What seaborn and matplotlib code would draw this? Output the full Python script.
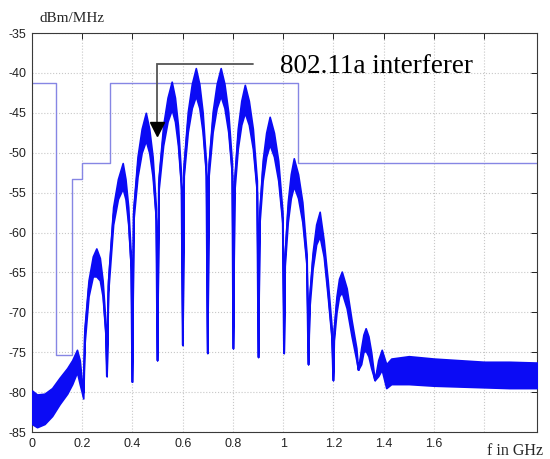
import matplotlib
matplotlib.use("Agg")
import matplotlib.pyplot as plt
import pandas as pd
import seaborn as sns

# ---- spectrum: frequency, upper / lower edge of the noisy trace ----
freq_ghz = [0.000, 0.020, 0.050, 0.080, 0.110, 0.140, 0.160, 0.179, 0.190, 0.198, 0.204,
            0.209, 0.225, 0.242, 0.256, 0.270, 0.281, 0.293, 0.297,
            0.303, 0.323, 0.342, 0.361, 0.372, 0.383, 0.394, 0.398,
            0.4035, 0.420, 0.4365, 0.453, 0.4665, 0.480, 0.4935, 0.498,
            0.504, 0.522, 0.5395, 0.556, 0.569, 0.581, 0.594, 0.599,
            0.604, 0.620, 0.636, 0.652, 0.666, 0.679, 0.693, 0.698,
            0.703, 0.719, 0.735, 0.751, 0.766, 0.781, 0.796, 0.800,
            0.805, 0.819, 0.833, 0.847, 0.863, 0.879, 0.895, 0.900,
            0.905, 0.918, 0.932, 0.946, 0.963, 0.980, 0.997, 1.002,
            1.006, 1.018, 1.030, 1.042, 1.059, 1.076, 1.093, 1.099,
            1.104, 1.117, 1.131, 1.145, 1.161, 1.177, 1.193, 1.198,
            1.2015, 1.212, 1.222, 1.233, 1.2525, 1.272, 1.291, 1.298,
            1.310, 1.319, 1.328, 1.339, 1.350, 1.364,
            1.378, 1.392, 1.410, 1.430, 1.500, 1.600, 1.700, 1.800, 1.900, 2.010]
upper_db = [-79.8, -80.3, -80.2, -79.5, -78.2, -77.0, -76.0, -74.7, -76.0, -78.5, -80.0,
            -72.0, -66.0, -63.0, -62.0, -63.2, -66.0, -71.5, -78.0,
            -66.0, -56.8, -53.3, -51.3, -53.3, -56.8, -63.3, -78.7,
            -57.0, -50.5, -47.0, -45.0, -47.0, -50.5, -57.0, -76.0,
            -53.1, -46.6, -43.1, -41.1, -43.1, -46.6, -53.1, -74.1,
            -51.4, -44.9, -41.4, -39.4, -41.4, -44.9, -51.4, -75.1,
            -51.4, -44.9, -41.4, -39.4, -41.4, -44.9, -51.4, -74.5,
            -53.5, -47.0, -43.5, -41.5, -43.5, -47.0, -53.5, -75.6,
            -57.5, -51.0, -47.5, -45.5, -47.5, -51.0, -57.5, -75.1,
            -62.7, -56.2, -52.7, -50.7, -52.7, -56.2, -62.7, -76.5,
            -68.0, -62.5, -59.0, -57.4, -61.0, -66.0, -72.0, -78.5,
            -72.0, -68.0, -65.8, -64.9, -67.0, -71.0, -74.5, -77.2,
            -74.5, -72.8, -72.0, -73.0, -75.0, -78.5,
            -76.0, -74.7, -76.5, -75.8, -75.5, -75.8, -76.0, -76.2, -76.2, -76.3]
lower_db = [-84.0, -84.4, -84.0, -83.0, -81.5, -80.2, -79.0, -77.5, -79.0, -80.0, -80.8,
            -74.0, -68.0, -65.5, -65.5, -66.0, -68.0, -73.0, -78.0,
            -67.5, -59.0, -55.8, -54.5, -55.8, -59.0, -64.8, -78.7,
            -58.5, -53.0, -50.0, -48.5, -50.0, -53.0, -58.5, -76.0,
            -54.6, -49.1, -46.1, -44.6, -46.1, -49.1, -54.6, -74.1,
            -52.9, -47.4, -44.4, -42.9, -44.4, -47.4, -52.9, -75.1,
            -52.9, -47.4, -44.4, -42.9, -44.4, -47.4, -52.9, -74.5,
            -55.0, -49.5, -46.5, -45.0, -46.5, -49.5, -55.0, -75.6,
            -59.0, -53.5, -50.5, -49.0, -50.5, -53.5, -59.0, -75.1,
            -64.2, -58.7, -55.7, -54.2, -55.7, -58.7, -64.2, -76.5,
            -69.5, -64.5, -61.5, -60.5, -63.0, -68.0, -73.5, -78.5,
            -73.5, -70.0, -68.0, -67.5, -69.5, -73.0, -76.0, -77.2,
            -76.5, -75.0, -74.8, -75.5, -77.0, -78.5,
            -78.0, -77.2, -79.5, -79.0, -79.0, -79.2, -79.3, -79.4, -79.5, -79.5]

# ---- emission mask (step levels) ----
mask_freq_ghz = [0.0, 0.094, 0.158, 0.200, 0.310, 1.059, 2.010]
mask_db = [-41.3, -75.3, -53.3, -51.3, -41.3, -51.3, -51.3]

# ---- axes / labels ----
x_ticks = [0.0, 0.2, 0.4, 0.6, 0.8, 1.0, 1.2, 1.4, 1.6, 1.8]
x_tick_labels = ["0", "0.2", "0.4", "0.6", "0.8", "1", "1.2", "1.4", "1.6", ""]
y_ticks = [-85, -80, -75, -70, -65, -60, -55, -50, -45, -40, -35]
y_tick_labels = ["-85", "-80", "-75", "-70", "-65", "-60", "-55", "-50", "-45", "-40", "-35"]
y_unit = "dBm/MHz"
x_unit = "f in GHz"
annotation_text = "802.11a interferer"

sns.set_style("white")
plt.rcParams["font.family"] = ["Liberation Sans", "DejaVu Sans"]

W, H = 550, 459
fig = plt.figure(figsize=(W / 100, H / 100), dpi=100)
fig.patch.set_facecolor("white")
ax = fig.add_axes([32 / W, 1 - 432 / H, (537 - 32) / W, (432 - 33) / H])

spec = pd.DataFrame({"f": freq_ghz, "hi": upper_db, "lo": lower_db})
spec["mid"] = (spec["hi"] + spec["lo"]) / 2
mask = pd.DataFrame({"f": mask_freq_ghz, "db": mask_db})

blue = "#0b0bf5"
sns.lineplot(data=mask, x="f", y="db", drawstyle="steps-post", color="#8686e4",
             lw=1.0, estimator=None, sort=False, ax=ax, zorder=2)
ax.fill_between(spec["f"], spec["lo"], spec["hi"], facecolor=blue, edgecolor=blue,
                lw=1.2, zorder=3)
sns.lineplot(data=spec, x="f", y="mid", color=blue, lw=1.0, estimator=None,
             sort=False, ax=ax, zorder=3)

# annotation: gray leader with black arrow head
ax.plot([0.879, 0.497, 0.497], [-38.9, -38.9, -46.3], color="#555555", lw=1.3,
        zorder=5, solid_joinstyle="miter")
ax.plot([0.497], [-47.0], marker="v", ms=9.5, color="black", zorder=6, lw=0)
ax.text(0.986, -40.0, annotation_text, fontsize=19.5, family=["Liberation Serif"],
        va="baseline", ha="left", color="black", zorder=6)

ax.set_xlim(0, 2.01)
ax.set_ylim(-85, -35)
ax.set_xticks(x_ticks)
ax.set_xticklabels(x_tick_labels)
ax.set_yticks(y_ticks)
ax.set_yticklabels(y_tick_labels)
ax.set_xlabel("")
ax.set_ylabel("")
ax.grid(True, color="#c8c8c8", linestyle=":", lw=0.8)
ax.set_axisbelow(True)
ax.tick_params(direction="in", length=4, width=0.7, top=True, right=True,
               labelsize=9, colors="#222222", pad=4)
for s in ax.spines.values():
    s.set_color("#3a3a3a")
    s.set_linewidth(0.8)
    s.set_visible(True)

fig.text(39 / W, 1 - 22 / H, y_unit, fontsize=11, family=["Liberation Serif"],
         va="baseline", ha="left")
fig.text(487 / W, 1 - 455 / H, x_unit, fontsize=11.5, family=["Liberation Serif"],
         va="baseline", ha="left")

fig.savefig("out.png", dpi=100, facecolor="white")
